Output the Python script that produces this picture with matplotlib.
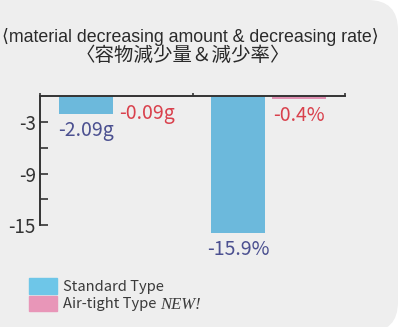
import matplotlib
matplotlib.use("Agg")
import matplotlib.pyplot as plt
from matplotlib.patches import FancyBboxPatch

# material loss per container type: weight (g) and rate (%)
categories = ["amount", "rate"]
standard = [-2.09, -15.9]
airtight = [-0.09, -0.4]
standard_labels = ["-2.09g", "-15.9%"]
airtight_labels = ["-0.09g", "-0.4%"]
series_names = ["Standard Type", "Air-tight Type"]
yticks = [-3, -6, -9, -12, -15]
ytick_labels = ["-3", "", "-9", "", "-15"]

title_en = "\u27e8material decreasing amount & decreasing rate\u27e9"
title_ja = "\u3008容物減少量\uff06減少率\u3009"

bar_blue = "#6cb9dc"
bar_pink = "#e08fb2"
text_blue = "#4b5090"
text_red = "#d9404c"
panel = "#eeeeee"
num_font = ["Noto Sans CJK KR", "DejaVu Sans"]

fig = plt.figure(figsize=(4.11, 3.27), dpi=100, facecolor="white")

# rounded grey card behind everything
card = FancyBboxPatch((-1.0, -0.05), 4.98, 3.32,
                      boxstyle="round,pad=0,rounding_size=0.3",
                      transform=fig.dpi_scale_trans, facecolor=panel,
                      edgecolor="none", zorder=-5)
fig.patches.append(card)

fig.text(190 / 411, 1 - 36.5 / 327, title_en, ha="center", va="center",
         fontsize=12.8, color="#2a2a2a", family=["Liberation Sans", "DejaVu Sans"])
fig.text(183 / 411, 1 - 55.5 / 327, title_ja, ha="center", va="center",
         fontsize=14, color="#2a2a2a", family=["Noto Sans CJK JP", "DejaVu Sans"])

ax = fig.add_axes([40 / 411, 1 - 233 / 327, 305 / 411, 137 / 327])
ax.set_facecolor("none")

x = list(range(len(categories)))
off, w = 0.2, 0.355
b1 = ax.bar([i - off for i in x], standard, width=w, color=bar_blue, zorder=2)
b2 = ax.bar([i + off for i in x], airtight, width=w, color=bar_pink, zorder=2)

for bars, labels, col in [(b1, standard_labels, text_blue), (b2, airtight_labels, text_red)]:
    for rect, lab in zip(bars, labels):
        ax.annotate(lab, (rect.get_x() + rect.get_width() / 2, rect.get_height()),
                    xytext=(0, -6), textcoords="offset pixels", ha="center", va="top",
                    fontsize=14, color=col, family=num_font)

ax.set_xlim(-0.5, 1.5)
ax.set_ylim(-15.9, 0)

ax.spines["right"].set_visible(False)
ax.spines["bottom"].set_visible(False)
ax.spines["left"].set_bounds(-15, 0)
for s in ("left", "top"):
    ax.spines[s].set_linewidth(1.4)
    ax.spines[s].set_color("#333333")

ax.xaxis.tick_top()
ax.set_xticks([-0.5, 0.5, 1.5])
ax.set_xticklabels([])
ax.tick_params(axis="x", direction="out", length=2.5, width=1.2, color="#333333")

ax.set_yticks(yticks)
ax.set_yticklabels(ytick_labels, family=num_font)
ax.tick_params(axis="y", direction="in", length=6, width=1.2, color="#333333",
               labelsize=13.5, labelcolor="#333333", pad=3)

leg = ax.legend([b1, b2], series_names, loc="upper left",
                bbox_to_anchor=(29 / 411, 1 - 278 / 327),
                bbox_transform=fig.transFigure, frameon=False,
                prop={"family": num_font, "size": 10.6},
                handlelength=1.9, handleheight=1.25, handletextpad=0.4,
                labelspacing=0.12, borderpad=0, borderaxespad=0)
leg.legend_handles[0].set_color("#6ec6e8")
leg.legend_handles[1].set_color("#e896b8")
for t in leg.get_texts():
    t.set_color("#3a3a3a")

# italic tag after the second legend entry; drawn after the legend so it can follow its text
ax.annotate("NEW!", xy=(1, 0.45), xycoords=leg.get_texts()[1], xytext=(4, 0),
            textcoords="offset pixels", ha="left", va="center", zorder=10,
            fontsize=12, style="italic", color="#3a3a3a", family="Liberation Serif")

fig.savefig("out.png", dpi=100, facecolor=fig.get_facecolor())
